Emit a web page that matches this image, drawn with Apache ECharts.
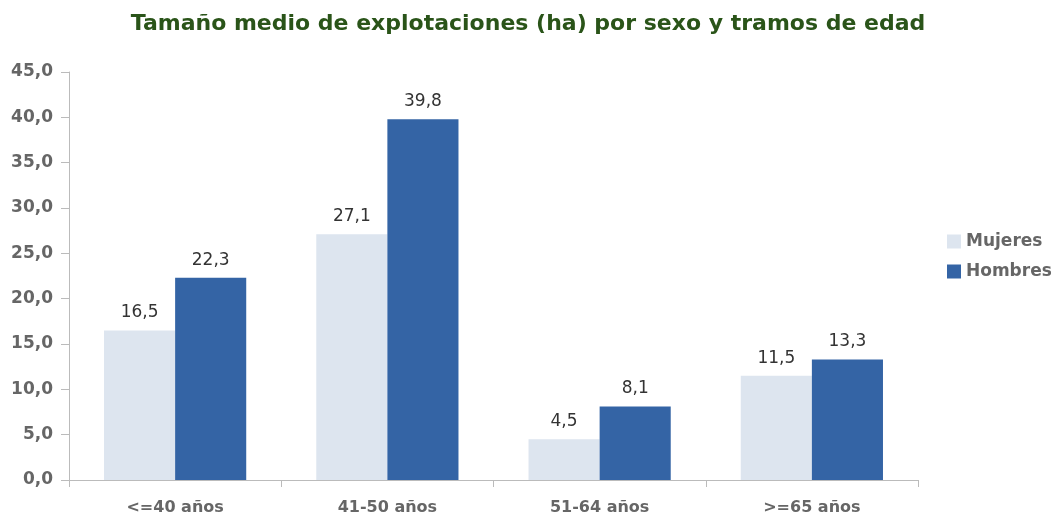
<!DOCTYPE html>
<html>
<head>
<meta charset="utf-8">
<script src="https://cdn.jsdelivr.net/npm/echarts@6/dist/echarts.min.js"></script>
<style>
  html, body { margin: 0; padding: 0; background: #fff; }
  #main { width: 1056px; height: 516px; }
</style>
</head>
<body>
<div id="main"></div>
<script>
// datos
const categorias = ["<=40 años", "41-50 años", "51-64 años", ">=65 años"];
const mujeres = [16.5, 27.1, 4.5, 11.5];
const hombres = [22.3, 39.8, 8.1, 13.3];

const fuente = "DejaVu Sans";
const fmt = (v) => v.toFixed(1).replace(".", ",");

const chart = echarts.init(document.getElementById("main"));
chart.setOption({
  animation: false,
  title: {
    text: "Tamaño medio de explotaciones (ha) por sexo y tramos de edad",
    left: "center",
    top: 8,
    textStyle: { fontFamily: fuente, fontSize: 22, fontWeight: "bold", color: "#2a5419" },
  },
  legend: {
    orient: "vertical",
    left: 942,
    top: 228,
    itemWidth: 14,
    itemHeight: 14,
    itemGap: 13,
    icon: "rect",
    textStyle: { fontFamily: fuente, fontSize: 17, fontWeight: "bold", color: "#666" },
    data: ["Mujeres", "Hombres"],
  },
  grid: { left: 69, right: 138, top: 72, bottom: 36 },
  xAxis: {
    type: "category",
    data: categorias,
    axisLine: { lineStyle: { color: "#bbb" } },
    axisTick: { show: true, length: 7, lineStyle: { color: "#bbb" } },
    axisLabel: { fontFamily: fuente, fontSize: 16, fontWeight: "bold", color: "#666", margin: 20 },
  },
  yAxis: {
    type: "value",
    min: 0,
    max: 45,
    interval: 5,
    splitLine: { show: false },
    axisLine: { show: true, lineStyle: { color: "#bbb" } },
    axisTick: { show: true, length: 8, lineStyle: { color: "#bbb" } },
    axisLabel: {
      fontFamily: fuente, fontSize: 17, fontWeight: "bold", color: "#666", margin: 16,
      formatter: (v) => fmt(v),
    },
  },
  series: [
    {
      name: "Mujeres",
      type: "bar",
      data: mujeres,
      barGap: "0%",
      barCategoryGap: "33%",
      itemStyle: { color: "#dde5ef" },
      label: {
        show: true, position: "top", distance: 9,
        fontFamily: fuente, fontSize: 17, color: "#333",
        formatter: (p) => fmt(p.value),
      },
    },
    {
      name: "Hombres",
      type: "bar",
      data: hombres,
      itemStyle: { color: "#3464a5" },
      label: {
        show: true, position: "top", distance: 9,
        fontFamily: fuente, fontSize: 17, color: "#333",
        formatter: (p) => fmt(p.value),
      },
    },
  ],
});
</script>
</body>
</html>
